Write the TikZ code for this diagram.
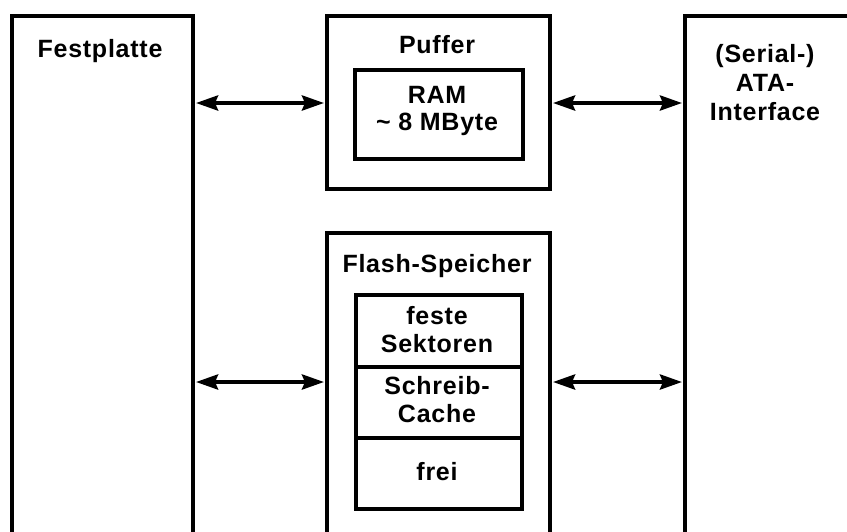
\documentclass[tikz,border=0pt]{standalone}
\usepackage{fontspec}
\setmainfont{Liberation Sans}[LetterSpace=3]
\usetikzlibrary{arrows.meta}
\begin{document}
\begin{tikzpicture}[x=1pt,y=-1pt,
  box/.style={draw=black,line width=4pt,fill=none,inner sep=0pt,anchor=north west},
  inbox/.style={draw=black,line width=3.5pt,inner sep=0pt,anchor=north west},
  lbl/.style={font=\fontsize{25}{26}\selectfont\bfseries,align=center,inner sep=0pt,text=black},
  arr/.style={line width=4pt,{Stealth[length=22pt,width=15pt,inset=3pt]}-{Stealth[length=22pt,width=15pt,inset=3pt]},shorten <=1pt,shorten >=1pt}]
\clip (0,0) rectangle (847,531);
% boxes
\node[box,minimum width=181pt,minimum height=560pt] (fest) at (10,14) {};
\node[box,minimum width=223pt,minimum height=173pt] (puffer) at (325,14) {};
\node[inbox,minimum width=168pt,minimum height=89pt] (ram) at (353,68) {};
\node[box,minimum width=223pt,minimum height=340pt] (flash) at (325,231) {};
\node[inbox,minimum width=166pt,minimum height=72pt] (s1) at (354,293) {};
\node[inbox,minimum width=166pt,minimum height=71pt] (s2) at (354,365) {};
\node[inbox,minimum width=166pt,minimum height=71pt] (s3) at (354,436) {};
\node[box,minimum width=220pt,minimum height=560pt] (ata) at (683,14) {};
% labels
\node[lbl] (tfest) at (100,51) {Festplatte};
\node[lbl] (tpuffer) at (437,45) {Puffer};
\node[lbl,font=\fontsize{25}{27}\selectfont\bfseries] (tram) at (437,111) {RAM\\\char`~\ 8 MByte};
\node[lbl,font=\fontsize{25}{29}\selectfont\bfseries] (tata) at (765,83) {(Serial-)\\ATA-\\Interface};
\node[lbl] (tflash) at (437,266) {Flash-Speicher};
\node[lbl,font=\fontsize{25}{28}\selectfont\bfseries] (ts1) at (437,330) {feste\\Sektoren};
\node[lbl,font=\fontsize{25}{28}\selectfont\bfseries] (ts2) at (437,400) {Schreib-\\Cache};
\node[lbl] (ts3) at (437,472) {frei};
% connectors
\coordinate (ya) at (0,103);
\coordinate (yb) at (0,382);
\draw[arr] (fest.east |- ya) -- (puffer.west |- ya);
\draw[arr] (puffer.east |- ya) -- (ata.west |- ya);
\draw[arr] (fest.east |- yb) -- (flash.west |- yb);
\draw[arr] (flash.east |- yb) -- (ata.west |- yb);
\end{tikzpicture}
\end{document}
